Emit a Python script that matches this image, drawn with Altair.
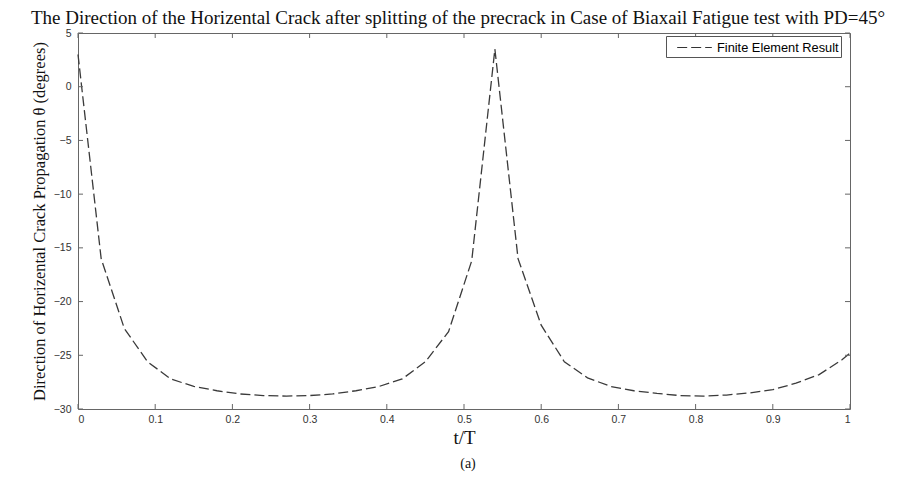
import altair as alt
import pandas as pd

# ---- data ----
t_values = [0.0, 0.03, 0.06, 0.09, 0.12, 0.15, 0.18, 0.21, 0.24, 0.27, 0.30, 0.33,
            0.36, 0.39, 0.42, 0.45, 0.48, 0.51, 0.54, 0.57, 0.60, 0.63, 0.66, 0.69,
            0.72, 0.75, 0.78, 0.81, 0.84, 0.87, 0.90, 0.93, 0.96, 0.99, 1.0]
theta_values = [3.0, -16.0, -22.5, -25.6, -27.2, -27.9, -28.3, -28.6, -28.75, -28.8, -28.75, -28.6,
                -28.3, -27.9, -27.2, -25.6, -22.8, -16.2, 3.5, -16.0, -22.2, -25.6, -27.1, -27.9,
                -28.3, -28.55, -28.75, -28.8, -28.7, -28.5, -28.2, -27.6, -26.8, -25.4, -24.8]
series_name = "Finite Element Result"
x_ticks = [0.0, 0.1, 0.2, 0.3, 0.4, 0.5, 0.6, 0.7, 0.8, 0.9, 1.0]
y_ticks = [-30, -25, -20, -15, -10, -5, 0, 5]
title_text = "The Direction of the Horizental Crack after splitting of the precrack in Case of Biaxail Fatigue test with PD=45\u00b0"
x_title = "t/T"
y_title = "Direction of Horizental Crack Propagation \u03b8 (degrees)"
caption = "(a)"

df = pd.DataFrame({"t": t_values, "theta": theta_values, "series": series_name})
xt = pd.DataFrame({"v": x_ticks})
yt = pd.DataFrame({"v": y_ticks})
cap = pd.DataFrame({"label": [caption]})

W, H = 772, 376
TICK = 5
SERIF = "Liberation Serif"
SANS = "Liberation Sans"

xscale = alt.Scale(domain=[0, 1], nice=False, zero=False)
yscale = alt.Scale(domain=[-30, 5], nice=False, zero=False)

line = alt.Chart(df).mark_line(strokeWidth=1.3, color="#3a3a3a").encode(
    x=alt.X("t:Q", scale=xscale,
            axis=alt.Axis(values=x_ticks, format="~g", title=x_title, ticks=False, domain=False,
                          grid=False, labelPadding=5, titlePadding=4,
                          titleFont=SERIF, titleFontSize=19, titleFontWeight="normal",
                          titleColor="#111111", labelFont=SANS, labelFontSize=10.5,
                          labelColor="#333333")),
    y=alt.Y("theta:Q", scale=yscale,
            axis=alt.Axis(values=y_ticks, title=y_title, ticks=False, domain=False,
                          grid=False, labelPadding=7, titlePadding=6,
                          titleFont=SERIF, titleFontSize=16.5, titleFontWeight="normal",
                          titleColor="#111111", labelFont=SANS, labelFontSize=10.5,
                          labelColor="#333333")),
    strokeDash=alt.StrokeDash("series:N",
                              scale=alt.Scale(domain=[series_name], range=[[10, 4]]),
                              legend=alt.Legend(title=None, orient="none", legendX=588, legendY=3,
                                                symbolType="M-2,0H2", symbolSize=300,
                                                symbolOffset=17,
                                                symbolStrokeWidth=1.2, symbolStrokeColor="#333333",
                                                labelFont=SANS, labelFontSize=12.8,
                                                strokeColor="#555555", fillColor="white",
                                                padding=2, labelOffset=13)),
)

tick_col = "#666666"
xb = alt.Chart(xt).mark_rule(color=tick_col).encode(
    x=alt.X("v:Q", scale=xscale), y=alt.value(H), y2=alt.value(H - TICK))
xtop = alt.Chart(xt).mark_rule(color=tick_col).encode(
    x=alt.X("v:Q", scale=xscale), y=alt.value(0), y2=alt.value(TICK))
yl = alt.Chart(yt).mark_rule(color=tick_col).encode(
    y=alt.Y("v:Q", scale=yscale), x=alt.value(0), x2=alt.value(TICK))
yr = alt.Chart(yt).mark_rule(color=tick_col).encode(
    y=alt.Y("v:Q", scale=yscale), x=alt.value(W), x2=alt.value(W - TICK))

captxt = alt.Chart(cap).mark_text(font=SERIF, fontSize=14, color="#111111", baseline="middle").encode(
    text="label:N", x=alt.value(W / 2 + 4), y=alt.value(H + 55))

chart = alt.layer(line, xb, xtop, yl, yr, captxt).properties(
    width=W, height=H,
    title=alt.Title(title_text, font=SERIF, fontSize=19, fontWeight="normal", anchor="middle",
                    offset=0, color="#111111", dx=-6),
    autosize=alt.AutoSizeParams(type="none"),
    padding={"left": 70, "top": 25, "right": 50, "bottom": 75},
    background="white",
).configure_view(stroke="#666666", strokeWidth=1)

chart.save("out.html", embed_options={"renderer": "svg", "actions": False})
